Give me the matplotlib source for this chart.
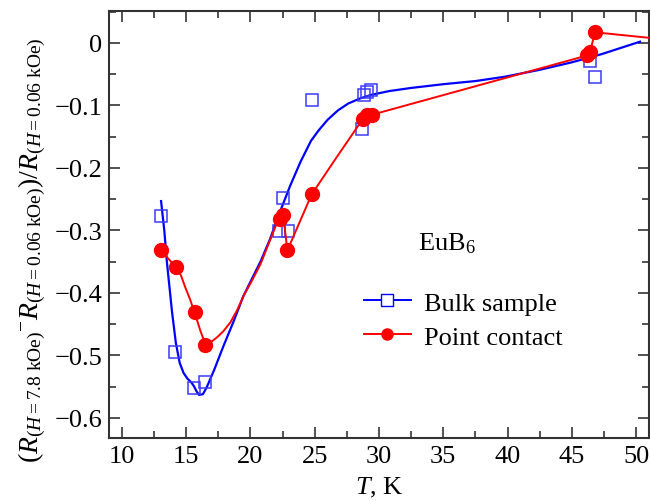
import matplotlib
matplotlib.use("Agg")
import matplotlib.pyplot as plt
from matplotlib.ticker import MultipleLocator, FuncFormatter

plt.rcParams['font.family'] = ['Liberation Serif', 'DejaVu Serif']
plt.rcParams['mathtext.fontset'] = 'custom'
plt.rcParams['mathtext.rm'] = 'Liberation Serif'
plt.rcParams['mathtext.it'] = 'Liberation Serif:italic'

# bulk sample (squares)
bulk_T = [13.05, 14.1, 15.6, 16.5, 22.2, 22.5, 22.9, 24.8, 28.7, 28.8, 29.1, 29.4, 46.4, 46.8]
bulk_v = [-0.277, -0.494, -0.552, -0.542, -0.301, -0.248, -0.301, -0.092, -0.138,
          -0.083, -0.078, -0.075, -0.029, -0.055]

# fitted curve for bulk sample
bulk_fit_T = [13.05, 13.3, 13.5, 13.7, 13.9, 14.2, 14.5, 14.8, 15.1, 15.4, 15.6, 15.8, 16.0,
              16.3, 16.6, 17.2, 17.9, 18.7, 19.45, 20.1, 20.8, 21.5, 22.3, 23.1, 23.9, 24.7,
              25.3, 26.0, 26.8, 27.6, 28.5, 29.4, 30.8, 32.5, 35.0, 37.5, 39.8, 42.5, 45.0,
              47.3, 50.3]
bulk_fit_v = [-0.253, -0.30, -0.35, -0.39, -0.43, -0.48, -0.512, -0.528, -0.537, -0.543,
              -0.549, -0.557, -0.563, -0.562, -0.551, -0.522, -0.485, -0.445, -0.405,
              -0.378, -0.349, -0.315, -0.27, -0.228, -0.19, -0.157, -0.14, -0.123, -0.108,
              -0.097, -0.089, -0.083, -0.077, -0.072, -0.066, -0.061, -0.054, -0.043,
              -0.031, -0.018, 0.002]

# point contact (circles)
pc_T = [13.07, 14.2, 15.65, 16.5, 22.27, 22.55, 22.87, 24.77, 28.73, 29.06, 29.43, 46.2, 46.4, 46.8]
pc_v = [-0.332, -0.359, -0.431, -0.483, -0.282, -0.275, -0.332, -0.242, -0.122, -0.116,
        -0.115, -0.02, -0.015, 0.017]

# line through point contact data
pc_line_T = [13.07, 14.2, 14.6, 14.95, 15.3, 15.65, 16.1, 16.5, 16.9, 17.4, 17.9, 18.44,
             18.95, 19.48, 20.1, 20.78, 21.4, 22.08, 22.27, 22.55, 22.87, 24.77, 26.8,
             28.73, 29.06, 29.43, 46.2, 46.4, 46.8, 53.0]
pc_line_v = [-0.332, -0.359, -0.372, -0.392, -0.41, -0.431, -0.46, -0.483, -0.479, -0.471,
             -0.461, -0.447, -0.428, -0.404, -0.381, -0.354, -0.322, -0.287, -0.282,
             -0.275, -0.332, -0.242, -0.18, -0.122, -0.116, -0.115, -0.02, -0.015, 0.017,
             0.004]

fig = plt.figure(figsize=(6.5, 5.02), dpi=100)
ax = fig.add_axes([0.1677, 0.1255, 0.8308, 0.8505])

ax.plot(bulk_fit_T, bulk_fit_v, color='blue', lw=1.6, zorder=2)
ax.plot(bulk_T, bulk_v, ls='none', marker='s', ms=9, mfc='none', mec='#3a3aff',
        mew=1.1, zorder=3)
ax.plot(pc_line_T, pc_line_v, color='red', lw=1.4, zorder=4)
ax.plot(pc_T, pc_v, ls='none', marker='o', ms=10, color='red', zorder=5)

# legend proxies
ax.plot([], [], color='blue', lw=1.4, marker='s', ms=8, mfc='white', mec='blue',
        label='Bulk sample')
ax.plot([], [], color='red', lw=1.4, marker='o', ms=8, label='Point contact')
ax.legend(loc='upper left', bbox_to_anchor=(0.447, 0.375), frameon=False, fontsize=19,
          handlelength=1.8, handletextpad=0.5, labelspacing=0.4, borderpad=0)

ax.text(33.0, -0.32, 'EuB$_6$', fontsize=19, ha='left', va='center')

ax.set_xlim(9, 51)
ax.set_ylim(-0.632, 0.051)
ax.xaxis.set_major_locator(MultipleLocator(5))
ax.xaxis.set_minor_locator(MultipleLocator(2.5))
ax.yaxis.set_major_locator(MultipleLocator(0.1))
ax.yaxis.set_minor_locator(MultipleLocator(0.05))
ax.yaxis.set_major_formatter(FuncFormatter(
    lambda v, p: '0' if abs(v) < 1e-9 else f'{v:.1f}'.replace('-', '\u2212')))

ax.tick_params(which='both', direction='in', top=True, right=True, labelsize=19,
               color='#333333', pad=5)
ax.tick_params(which='major', length=8, width=1.2)
ax.tick_params(which='minor', length=5, width=1.2)
for s in ax.spines.values():
    s.set_linewidth(1.5)
    s.set_color('#333333')

ax.set_xlabel('$T$, K', fontsize=19, labelpad=6)
ax.set_ylabel(r'$({R_{(H=7.8\ \mathrm{kOe})}}^{-}R_{(H=0.06\ \mathrm{kOe})})/R_{(H=0.06\ \mathrm{kOe})}$',
              fontsize=20, va='center')
ax.yaxis.set_label_coords(-0.143, 0.443)

fig.savefig('out.png', dpi=100)
